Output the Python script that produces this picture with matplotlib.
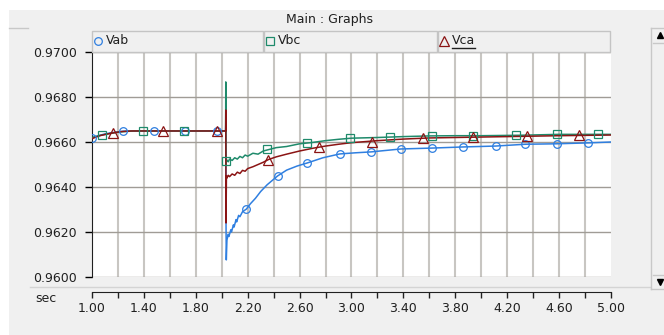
import numpy as np
import matplotlib.pyplot as plt
from matplotlib.patches import Rectangle
from matplotlib.lines import Line2D

# ---- data ----
t_ab = [1.00, 1.05, 1.10, 1.16, 1.24, 1.35, 2.030, 2.031, 2.033, 2.035, 2.040,
        2.05, 2.055, 2.07, 2.075, 2.09, 2.095, 2.11, 2.115, 2.13, 2.14, 2.16,
        2.19, 2.22, 2.26, 2.30, 2.35, 2.43, 2.50, 2.58, 2.66, 2.78, 2.91,
        3.03, 3.15, 3.38, 3.62, 3.86, 4.11, 4.34, 4.58, 4.82, 5.00]
v_ab = [0.96618, 0.96628, 0.96636, 0.96642, 0.96648, 0.96649, 0.96649, 0.96676,
        0.96231, 0.96076, 0.96164, 0.96190, 0.96180, 0.96210, 0.96200, 0.96232,
        0.96222, 0.96255, 0.96245, 0.96274, 0.96268, 0.96290, 0.96302, 0.96325,
        0.96350, 0.96380, 0.96410, 0.96449, 0.96475, 0.96493, 0.96507, 0.96530,
        0.96547, 0.96552, 0.96556, 0.96569, 0.96573, 0.96578, 0.96582, 0.96590,
        0.96592, 0.96596, 0.96600]

t_bc = [1.00, 1.04, 1.077, 1.14, 1.22, 1.32, 2.030, 2.031, 2.033, 2.036,
        2.04, 2.05, 2.06, 2.08, 2.10, 2.12, 2.14, 2.16, 2.18, 2.20, 2.24, 2.28,
        2.32, 2.36, 2.42, 2.50, 2.60, 2.70, 2.80, 2.90, 3.00, 3.20, 3.40, 3.60,
        3.80, 4.00, 4.30, 4.60, 5.00]
v_bc = [0.96620, 0.96626, 0.96631, 0.96638, 0.96645, 0.96649, 0.96649, 0.96867,
        0.96500, 0.96516, 0.96520, 0.96512, 0.96524, 0.96518, 0.96530, 0.96524,
        0.96536, 0.96530, 0.96542, 0.96537, 0.96550, 0.96546, 0.96560, 0.96566,
        0.96575, 0.96580, 0.96592, 0.96598, 0.96606, 0.96612, 0.96617, 0.96620,
        0.96624, 0.96627, 0.96628, 0.96628, 0.96630, 0.96634, 0.96634]

t_ca = [1.00, 1.06, 1.12, 1.16, 1.22, 1.30, 2.030, 2.031, 2.033, 2.036,
        2.04, 2.05, 2.06, 2.08, 2.10, 2.12, 2.14, 2.16, 2.18, 2.20, 2.24, 2.28,
        2.32, 2.36, 2.42, 2.50, 2.60, 2.70, 2.80, 2.90, 3.00, 3.20, 3.40, 3.60,
        3.80, 4.00, 4.30, 4.60, 5.00]
v_ca = [0.96615, 0.96628, 0.96636, 0.96640, 0.96646, 0.96649, 0.96649, 0.96742,
        0.96240, 0.96450, 0.96440, 0.96452, 0.96446, 0.96458, 0.96452, 0.96466,
        0.96460, 0.96474, 0.96470, 0.96482, 0.96490, 0.96500, 0.96510, 0.96522,
        0.96534, 0.96546, 0.96560, 0.96572, 0.96582, 0.96590, 0.96597, 0.96606,
        0.96613, 0.96618, 0.96620, 0.96622, 0.96625, 0.96628, 0.96631]

# sparse symbols on each trace
mt_ab = [1.00, 1.24, 1.48, 1.72, 1.96, 2.19, 2.43, 2.66, 2.91, 3.15, 3.38,
         3.62, 3.86, 4.11, 4.34, 4.58, 4.82]
mv_ab = [0.96618, 0.96649, 0.96649, 0.96649, 0.96649, 0.96302, 0.96449,
         0.96507, 0.96547, 0.96556, 0.96569, 0.96573, 0.96578, 0.96582,
         0.96590, 0.96592, 0.96596]
mt_bc = [1.077, 1.39, 1.71, 2.036, 2.35, 2.66, 2.99, 3.30, 3.62, 3.94, 4.27,
         4.58, 4.90]
mv_bc = [0.96631, 0.96649, 0.96649, 0.96516, 0.96569, 0.96596, 0.96617,
         0.96622, 0.96627, 0.96628, 0.96630, 0.96634, 0.96634]
mt_ca = [1.16, 1.55, 1.96, 2.36, 2.75, 3.16, 3.55, 3.94, 4.35, 4.75]
mv_ca = [0.96640, 0.96649, 0.96649, 0.96522, 0.96578, 0.96600, 0.96618,
         0.96622, 0.96626, 0.96630]

names = ['Vab', 'Vbc', 'Vca']
colors = ['#2f7fe0', '#1f8a6b', '#8b1414']
symbols = ['o', 's', '^']
msizes = [5.5, 5.5, 6.5]

y_ticks = [0.9600, 0.9620, 0.9640, 0.9660, 0.9680, 0.9700]
x_labels = [1.00, 1.40, 1.80, 2.20, 2.60, 3.00, 3.40, 3.80, 4.20, 4.60, 5.00]

# ---- figure ----
W, H = 664, 335
bg = '#f0f0f0'
fig = plt.figure(figsize=(W / 100, H / 100), dpi=100, facecolor=bg)

def fx(px):
    return px / W

def fy(py):
    return 1 - py / H

# white edges of the window
fig.add_artist(Rectangle((0, fy(10)), 1, 10 / H, transform=fig.transFigure,
                         facecolor='white', edgecolor='none'))
fig.add_artist(Rectangle((0, 0), fx(9), 1, transform=fig.transFigure,
                         facecolor='white', edgecolor='none'))
fig.add_artist(Line2D([fx(9), fx(28)], [fy(28), fy(28)], color='#c8c8c8', lw=1))

fig.text(fx(330), fy(19), 'Main : Graphs', ha='center', va='center',
         fontsize=9, color='#202020')

L, R, T, B = 92, 611, 52, 277
ax = fig.add_axes([fx(L), fy(B), fx(R - L), (B - T) / H])
ax.set_facecolor('white')

ax.plot(t_ab, v_ab, color=colors[0], lw=1.1, zorder=3)
ax.plot(t_bc, v_bc, color=colors[1], lw=1.1, zorder=3)
ax.plot(t_ca, v_ca, color=colors[2], lw=1.1, zorder=3)
for mt, mv, c, s, ms in zip([mt_ab, mt_bc, mt_ca], [mv_ab, mv_bc, mv_ca],
                            colors, symbols, msizes):
    ax.plot(mt, mv, ls='none', marker=s, ms=ms, mfc='none', mec=c, mew=0.9, zorder=4)

ax.set_xlim(1.0, 5.0)
ax.set_ylim(0.9600, 0.9700)
ax.set_yticks(y_ticks)
ax.set_yticklabels(['%.4f' % v for v in y_ticks], fontsize=9, color='#202020')
ax.set_xticks(np.arange(1.2, 4.81, 0.2))
ax.tick_params(axis='x', bottom=False, labelbottom=False)
ax.tick_params(axis='y', length=5, width=1, pad=6)
for x in np.arange(1.2, 4.81, 0.2):
    ax.axvline(x, color='#c8c6c2', lw=1.5, zorder=1)
for y in y_ticks:
    ax.axhline(y, color='#a09c96', lw=1.0, zorder=1)
for s in ['top', 'right', 'bottom']:
    ax.spines[s].set_visible(False)
ax.spines['left'].set_color('#202020')

# separate time axis below the plot
axx = fig.add_axes([fx(L), fy(292), fx(R - L), 0.0001])
axx.set_xlim(1.0, 5.0)
axx.set_yticks([])
axx.set_xticks(x_labels)
axx.set_xticklabels(['%.2f' % v for v in x_labels], fontsize=9, color='#202020')
axx.set_xticks(np.arange(1.2, 4.81, 0.4), minor=True)
axx.tick_params(axis='x', which='both', length=4, width=1, pad=3, color='#202020')
for s in ['top', 'right', 'left']:
    axx.spines[s].set_visible(False)
axx.spines['bottom'].set_color('#202020')
axx.patch.set_visible(False)
fig.text(fx(35), fy(299), 'sec', ha='left', va='center', fontsize=9, color='#202020')

fig.add_artist(Line2D([fx(30), fx(650)], [fy(287), fy(287)], color='#d4d4d4', lw=1))

# legend header boxes
boxes = [(92, 263), (264, 437), (438, 610)]
for (x0, x1), name, c, s, ms in zip(boxes, names, colors, symbols, msizes):
    fig.add_artist(Rectangle((fx(x0), fy(52)), fx(x1 - x0), 21 / H,
                             transform=fig.transFigure, facecolor=bg,
                             edgecolor='#c4c4c4', lw=1))
    fig.add_artist(Line2D([fx(x0 + 6)], [fy(41)], marker=s, ms=ms, mfc='none',
                          mec=c, mew=0.9, ls='none'))
    fig.text(fx(x0 + 14), fy(41), name, ha='left', va='center', fontsize=9,
             color='#202020')
fig.add_artist(Line2D([fx(452), fx(475)], [fy(48), fy(48)], color='#202020', lw=1))

# scrollbar strip on the right
fig.add_artist(Line2D([fx(651), fx(651)], [fy(28), fy(289)], color='#c8c8c8', lw=1))
fig.add_artist(Line2D([fx(651), fx(664)], [fy(28), fy(28)], color='#c8c8c8', lw=1))
fig.add_artist(Line2D([fx(651), fx(664)], [fy(289), fy(289)], color='#c8c8c8', lw=1))
fig.add_artist(Line2D([fx(653), fx(664)], [fy(43), fy(43)], color='#c8c8c8', lw=1))
fig.add_artist(Line2D([fx(653), fx(664)], [fy(275), fy(275)], color='#c8c8c8', lw=1))
fig.add_artist(Line2D([fx(660)], [fy(35)], marker='^', ms=4, color='black', ls='none'))
fig.add_artist(Line2D([fx(660)], [fy(282)], marker='v', ms=4, color='black', ls='none'))

fig.savefig('out.png', dpi=100, facecolor=bg)
